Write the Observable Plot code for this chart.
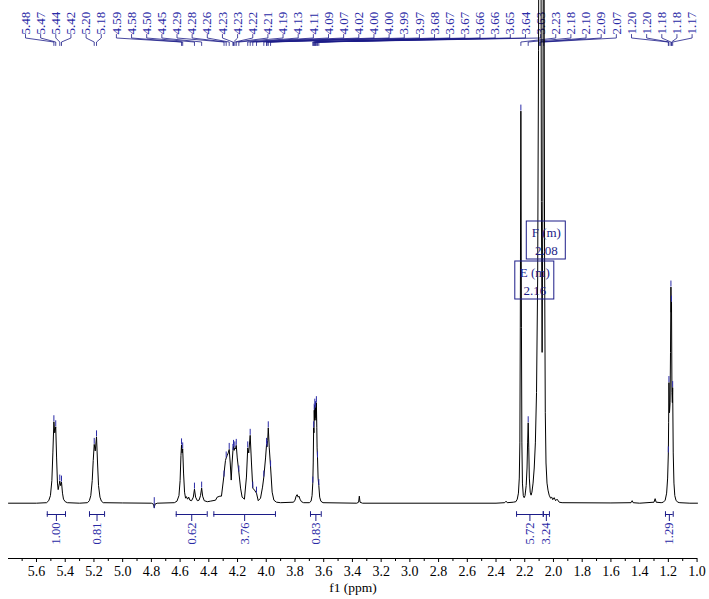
<!DOCTYPE html>
<html><head><meta charset="utf-8">
<script src="https://cdn.jsdelivr.net/npm/d3@7"></script>
<script src="https://cdn.jsdelivr.net/npm/@observablehq/plot@0.6"></script>
<style>html,body{margin:0;padding:0;background:#fff}#chart svg{display:block}</style>
</head><body><div id="chart"></div>
<script>
// ---- spectrum trace (ppm, relative intensity) ----
const specPpm = [
 5.795,5.60,5.53,5.515,5.503,5.493,5.486,5.479,5.473,5.466,5.460,5.454,5.449,5.443,5.438,5.432,5.426,5.419,5.412,5.400,5.385,
 5.30,5.245,5.232,5.222,5.212,5.205,5.198,5.191,5.182,5.175,5.168,5.158,5.148,5.135,
 5.00,4.80,4.785,4.78,4.775,4.76,
 4.64,4.622,4.608,4.600,4.594,4.590,4.586,4.582,4.576,4.569,4.562,4.556,4.548,4.540,4.532,4.520,4.508,4.500,4.492,4.480,4.468,4.458,4.450,4.443,4.432,4.410,4.390,
 4.353,4.342,4.323,4.312,4.296,4.290,4.284,4.279,4.272,4.265,4.258,4.251,4.244,4.238,4.232,4.228,4.224,4.219,4.214,4.209,4.202,4.191,4.179,4.168,4.152,
 4.138,4.129,4.122,4.112,4.103,4.094,4.082,4.068,4.056,4.040,4.026,4.017,4.005,3.998,3.995,3.990,3.986,3.979,3.970,3.959,3.947,3.929,
 3.90,3.81,3.800,3.792,3.785,3.778,3.772,3.765,3.755,3.74,
 3.70,3.688,3.681,3.676,3.673,3.670,3.668,3.666,3.664,3.662,3.660,3.657,3.654,3.651,3.648,3.646,3.643,3.639,3.634,3.628,3.620,3.605,
 3.37,3.357,3.352,3.347,3.33,
 2.40,2.34,2.33,2.322,2.28,2.262,2.252,2.244,2.238,2.234,2.231,2.227,2.223,2.220,2.216,2.210,2.204,2.198,
 2.190,2.184,2.180,2.176,2.172,2.168,2.162,2.156,2.150,2.142,2.134,2.126,2.118,2.110,2.104,2.098,2.094,2.090,2.084,2.079,2.074,2.068,2.062,2.057,2.052,2.045,2.038,2.030,2.020,2.012,2.005,1.995,1.985,1.975,1.960,1.940,
 1.60,1.46,1.452,1.445,1.40,1.30,1.292,1.285,1.25,
 1.235,1.222,1.212,1.205,1.200,1.198,1.196,1.192,1.188,1.185,1.182,1.180,1.178,1.175,1.172,1.170,1.166,1.161,1.155,1.147,1.135,1.12,1.05,0.997
];
const specInt = [
 0,0,0.1,0.5,1.5,4.5,10,16.2,14,15.2,9,4,2.7,3.6,4.4,3.5,4.2,2,0.8,0.3,0.1,
 0,0.1,0.5,1.5,4.5,8.5,11.7,10.4,13.2,8,3.5,1.2,0.4,0.1,
 0.05,0,-0.2,-0.9,-0.2,0,
 0.1,0.4,1.5,4.5,9.5,11.6,10,10.8,6,2.2,1.0,1.3,0.8,1.2,0.6,0.5,1.2,2.8,1.2,0.5,0.6,1.5,3.0,1.4,0.5,0.3,0.4,
 0.6,1.2,1.4,1.4,5.2,7,8.5,9,9.5,10,10.7,8,4.6,8,10.5,11.3,10.5,11,10.8,11.5,9,6.2,3,1.2,0.8,
 5.2,11,10,13.5,8,3,2.6,2,0.5,1,3.2,5.2,9,11.7,11.2,12.5,15,11,7.2,2.2,0.6,0.2,
 0.1,0.2,0.6,1.4,1.7,1.2,1.4,0.8,0.3,0.1,
 0.1,0.4,1.5,4,8,15,14,18.5,16.5,19.5,17,19,16.5,20,15,11,9,5,3.5,1.2,0.4,0.1,
 0,0.2,1.4,0.2,0,
 0,0.1,0.4,0.1,0.2,0.3,0.8,2,5,12,35,78,35,12,4,1.5,1.1,1.5,
 3.5,7,12,16,11,5,2.2,1.6,2.2,4,7,12,22,45,90,160,140,175,60,30,60,160,50,18,8,4,2.6,1.6,1.0,1.2,0.7,1.1,0.5,0.8,0.2,0.1,
 0.05,0.1,0.5,0.1,0,0.2,0.9,0.2,0.1,
 0.2,0.6,2,5,10,16,24,18,20,30,43,38,40,22,20,23,10,4,1.5,0.6,0.2,0.1,0,0
];

// ---- peak picking labels ----
const peakLabels = ["5.48","5.47","5.44","5.42","5.20","5.18","4.59","4.58","4.50","4.45","4.29","4.28","4.26","4.23","4.23","4.22","4.21","4.19","4.13","4.11","4.09","4.07","4.02","4.00","4.00","3.99","3.97","3.68","3.67","3.67","3.66","3.66","3.65","3.64","3.63","2.23","2.18","2.10","2.09","2.07","1.20","1.20","1.18","1.18","1.17"];
const peakPpm = [5.479,5.466,5.438,5.426,5.198,5.182,4.590,4.582,4.500,4.450,4.294,4.279,4.258,4.232,4.228,4.219,4.209,4.191,4.129,4.112,4.094,4.068,4.017,3.998,3.995,3.986,3.970,3.676,3.670,3.666,3.662,3.657,3.651,3.643,3.634,2.227,2.176,2.098,2.090,2.068,1.200,1.196,1.182,1.178,1.170];
const peakInt = [16.2,15.2,4.4,4.2,11.7,13.2,11.6,10.8,2.8,3.0,5.2,9,10.7,10.5,11.3,11,11.5,6.2,11,13.5,3,2,5.2,11.7,11.2,15,7.2,4,15,18.5,19.5,19,20,9,3.5,78,16,160,175,160,10,24,43,40,23];
const unlabeledTicks = [4.78];

// ---- integrals ----
const integralFrom = [5.525,5.231,4.627,4.365,3.692,2.257,2.071,1.220];
const integralTo   = [5.398,5.126,4.411,3.936,3.617,2.071,2.028,1.166];
const integralValues = ["1.00","0.81","0.62","3.76","0.83","5.72","3.24","1.29"];

// ---- multiplet annotations ----
const multipletNames = ["E (m)","F (m)"];
const multipletShifts = [2.16, 2.08];

// ---- axis ----
const majorTicks = [5.6,5.4,5.2,5.0,4.8,4.6,4.4,4.2,4.0,3.8,3.6,3.4,3.2,3.0,2.8,2.6,2.4,2.2,2.0,1.8,1.6,1.4,1.2,1.0];
const minorTicks = [5.7,5.5,5.3,5.1,4.9,4.7,4.5,4.3,4.1,3.9,3.7,3.5,3.3,3.1,2.9,2.7,2.5,2.3,2.1,1.9,1.7,1.5,1.3,1.1];

// ---- layout ----
const W = 709, H = 599, mL = 8, mR = 12, mT = 0, mB = 41;
const xDom = [5.795, 0.997], yDom = [-11, 100];
const xS = d3.scaleLinear(xDom, [mL, W - mR]);
const yS = d3.scaleLinear(yDom, [H - mB, mT]);
const blue = "#2a2aa6", navy = "#1c1c88", serif = "Liberation Serif";

const spectrum = specPpm.map((p, i) => ({ppm: p, v: specInt[i]}));
const peaks = peakLabels.map((t, i) => ({
  text: t, ppm: peakPpm[i], h: peakInt[i],
  slot: xS.invert(25 + 15.15 * i)
}));
const connectors = peaks.flatMap((d, i) => [
  {z: i, x: d.slot, y: yS.invert(34)},
  {z: i, x: d.slot, y: yS.invert(37.5)},
  {z: i, x: d.ppm, y: yS.invert(41.5)},
  {z: i, x: d.ppm, y: yS.invert(45)}
]);
const tickLen = yS.invert(0) - yS.invert(6);
const integrals = integralValues.map((t, i) => ({text: t, a: integralFrom[i], b: integralTo[i], m: (integralFrom[i] + integralTo[i]) / 2}));
const bY = yS.invert(514), bHalf = yS.invert(0) - yS.invert(2.8);
const boxW = (xDom[0] - xDom[1]) / (W - mL - mR) * 39 / 2;
const boxH = (yDom[1] - yDom[0]) / (H - mB - mT) * 38 / 2;
const boxLevels = [yS.invert(280), yS.invert(240)];
const multiplets = multipletNames.map((n, i) => ({
  text: n + "\n" + multipletShifts[i].toFixed(2),
  cx: multipletShifts[i] - 0.03, cy: boxLevels[i]
}));

const chart = Plot.plot({
  width: W, height: H, marginLeft: mL, marginRight: mR, marginTop: mT, marginBottom: mB,
  x: {domain: xDom},
  y: {domain: yDom, axis: null},
  style: {background: "#fff", fontFamily: serif, overflow: "hidden"},
  marks: [
    // peak labels and connectors
    Plot.line(connectors, {x: "x", y: "y", z: "z", stroke: navy, strokeWidth: 0.8}),
    Plot.text(peaks, {x: "slot", y: () => yS.invert(34), text: "text", rotate: -90, textAnchor: "start",
      fontSize: 13, fontFamily: serif, fill: blue}),
    // integrals
    Plot.ruleY(integrals, {x1: "a", x2: "b", y: () => bY, stroke: navy, strokeWidth: 1}),
    Plot.ruleX(integrals, {x: "a", y1: () => bY - bHalf, y2: () => bY + bHalf, stroke: navy}),
    Plot.ruleX(integrals, {x: "b", y1: () => bY - bHalf, y2: () => bY + bHalf, stroke: navy}),
    Plot.ruleX(integrals, {x: "m", y1: () => bY, y2: () => yS.invert(521), stroke: navy}),
    Plot.text(integrals, {x: "m", y: () => yS.invert(522), text: "text", rotate: -90, textAnchor: "end",
      fontSize: 12.5, fontFamily: serif, fill: blue}),
    // spectrum
    Plot.line(spectrum, {x: "ppm", y: "v", stroke: "#000", strokeWidth: 1}),
    // peak top markers
    Plot.ruleX(peaks, {x: "ppm", y1: "h", y2: d => d.h + tickLen, stroke: blue, strokeWidth: 1}),
    Plot.ruleX(unlabeledTicks, {x: d => d, y1: -1.1, y2: 1.1, stroke: blue, strokeWidth: 1}),
    // multiplet boxes
    Plot.rect(multiplets, {x1: d => d.cx + boxW, x2: d => d.cx - boxW, y1: d => d.cy - boxH, y2: d => d.cy + boxH,
      fill: "none", stroke: navy, strokeWidth: 1}),
    Plot.text(multiplets, {x: "cx", y: "cy", text: "text", fontSize: 13, lineHeight: 1.4, fontFamily: serif, fill: navy}),
    // axis
    Plot.ruleY([yDom[0]], {stroke: "#000", strokeWidth: 1}),
    Plot.axisX({ticks: majorTicks, tickSize: 4, tickPadding: 4, tickFormat: d => d.toFixed(1),
      fontSize: 14, fontFamily: serif, color: "#000", label: null}),
    Plot.axisX({ticks: minorTicks, tickSize: 3, tickFormat: () => "", label: null}),
    Plot.text(["f1 (ppm)"], {frameAnchor: "bottom", dy: 33, text: d => d, fontSize: 13.5, fontFamily: serif, fill: "#000"})
  ]
});
document.getElementById("chart").appendChild(chart);
</script>
</body></html>
